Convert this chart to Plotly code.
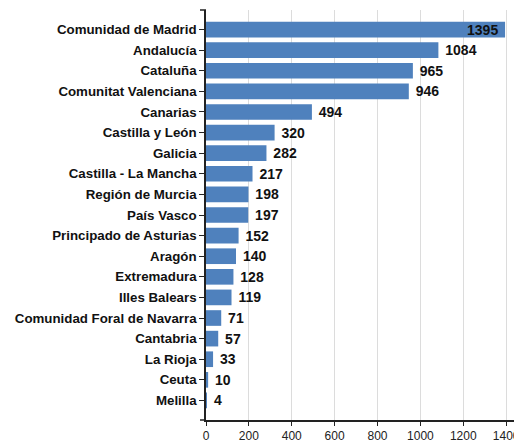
import plotly.graph_objects as go

regions = [
    "Comunidad de Madrid", "Andalucía", "Cataluña", "Comunitat Valenciana",
    "Canarias", "Castilla y León", "Galicia", "Castilla - La Mancha",
    "Región de Murcia", "País Vasco", "Principado de Asturias", "Aragón",
    "Extremadura", "Illes Balears", "Comunidad Foral de Navarra",
    "Cantabria", "La Rioja", "Ceuta", "Melilla",
]
values = [1395, 1084, 965, 946, 494, 320, 282, 217, 198, 197,
          152, 140, 128, 119, 71, 57, 33, 10, 4]
x_ticks = [0, 200, 400, 600, 800, 1000, 1200, 1400]

FONT = "Liberation Sans"
BAR = "#4f81bd"
NBSP = "\u00a0"

# the longest bar carries its label inside, the rest outside
text_pos = ["inside" if v > 1300 else "outside" for v in values]
labels = [f"{v}{NBSP}" if v > 1300 else f"{NBSP}{v}" for v in values]

fig = go.Figure(go.Bar(
    x=values,
    y=regions,
    orientation="h",
    marker=dict(color=BAR, line=dict(width=0)),
    width=0.76,
    text=labels,
    textposition=text_pos,
    insidetextanchor="end",
    textfont=dict(family=FONT, size=14, color="#111111", weight="bold"),
    cliponaxis=False,
))

# the page puts the figure 8px in from the top-left corner
fig.update_layout(
    width=514,
    height=435,
    margin=dict(l=198, r=0, t=2, b=23, autoexpand=False),
    plot_bgcolor="white",
    paper_bgcolor="white",
    showlegend=False,
    uniformtext=dict(minsize=14, mode="show"),
    font=dict(family=FONT, color="#111111"),
    shapes=[
        dict(type="line", xref="paper", yref="paper", x0=-6 / 316, x1=0,
             y0=1, y1=1, line=dict(color="#222222", width=1.5)),
        dict(type="line", xref="paper", yref="paper", x0=-6 / 316, x1=0,
             y0=0, y1=0, line=dict(color="#222222", width=1.5)),
    ],
)

fig.update_xaxes(
    range=[0, 1474],
    tickvals=x_ticks,
    automargin=False,
    showgrid=True,
    gridcolor="#dcdcdc",
    gridwidth=1,
    zeroline=False,
    showline=True,
    linecolor="#222222",
    linewidth=1.5,
    ticks="outside",
    ticklen=4,
    tickcolor="#222222",
    tickfont=dict(family=FONT, size=12, color="#222222"),
)

fig.update_yaxes(
    categoryorder="array",
    categoryarray=regions,
    range=[18.95, -0.95],
    automargin=False,
    showgrid=False,
    showline=True,
    linecolor="#222222",
    linewidth=1.5,
    ticks="outside",
    ticklen=5,
    tickcolor="#222222",
    tickfont=dict(family=FONT, size=13.3, color="#111111", weight="bold"),
)

fig.write_html("out.html")
